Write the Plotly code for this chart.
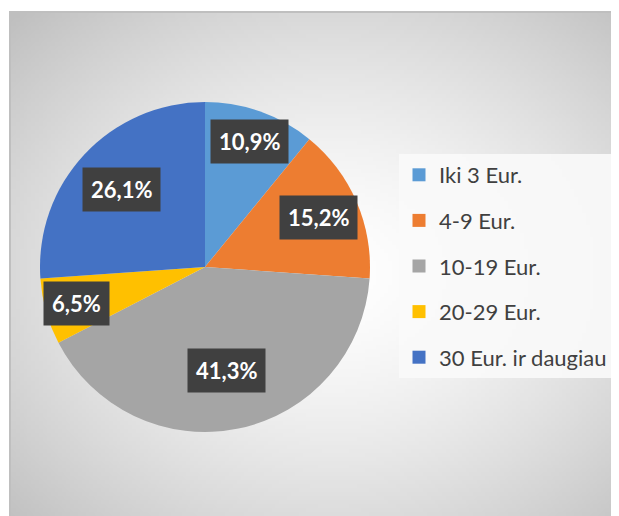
import base64
import struct
import zlib

import numpy as np
import plotly.graph_objects as go

labels = ["Iki 3 Eur.", "4-9 Eur.", "10-19 Eur.", "20-29 Eur.", "30 Eur. ir daugiau"]
values = [10.9, 15.2, 41.3, 6.5, 26.1]
colors = ["#5B9BD5", "#ED7D31", "#A5A5A5", "#FFC000", "#4472C4"]

W, H = 619, 516
# the page body has an 8px margin, so window pixels are shifted by that
OFF = 8


def fx(x):
    return (x - OFF) / W


def fy(y):
    return 1 - (y - OFF) / H


# radial grey background like the Excel chart area, made as a small png
def gradient_png(w, h):
    yy, xx = np.mgrid[0:h, 0:w]
    cx, cy = w * 0.52, h * 0.5
    d = np.sqrt(((xx - cx) / cx) ** 2 + ((yy - cy) / cy) ** 2) / np.sqrt(2)
    g = (255 - 64 * np.clip(d, 0, 1) ** 1.5).astype(np.uint8)
    raw = b"".join(b"\x00" + bytes(np.repeat(row, 3)) for row in g)

    def chunk(tag, data):
        c = struct.pack(">I", len(data)) + tag + data
        return c + struct.pack(">I", zlib.crc32(tag + data) & 0xFFFFFFFF)

    png = b"\x89PNG\r\n\x1a\n"
    png += chunk(b"IHDR", struct.pack(">IIBBBBB", w, h, 8, 2, 0, 0, 0))
    png += chunk(b"IDAT", zlib.compress(raw, 9))
    png += chunk(b"IEND", b"")
    return "data:image/png;base64," + base64.b64encode(png).decode()


# pie geometry in window pixels
cx, cy, r = 205, 267, 165

fig = go.Figure()
fig.add_trace(go.Pie(
    labels=labels, values=values, sort=False, direction="clockwise",
    rotation=0, marker=dict(colors=colors), textinfo="none",
    showlegend=False,
    domain=dict(x=[fx(cx - r), fx(cx + r)], y=[fy(cy + r), fy(cy - r)]),
    hovertemplate="%{label}: %{value:.1f}%<extra></extra>",
))

# legend entries as dummy square markers so the rows can be spaced out
for lab, col in zip(labels, colors):
    fig.add_trace(go.Scatter(
        x=[None], y=[None], mode="markers", name=lab, legendgroup=lab,
        marker=dict(symbol="square", size=13, color=col),
    ))

# data labels in dark boxes, placed at the middle angle of each slice
label_r = [0.81, 0.75, 0.64, 0.81, 0.69]
total = sum(values)
cum = 0
annotations = []
for v, rf in zip(values, label_r):
    mid = (cum + v / 2) / total * 2 * np.pi
    cum += v
    annotations.append(dict(
        x=fx(cx + rf * r * np.sin(mid)), y=fy(cy - rf * r * np.cos(mid)),
        xref="paper", yref="paper", xanchor="center", yanchor="middle",
        text="<b>" + f"{v / total * 100:.1f}".replace(".", ",") + "%</b>",
        showarrow=False, bgcolor="#404040", borderpad=8,
        font=dict(family="Lato", size=22, color="white"),
    ))

fig.update_layout(
    width=W, height=H,
    margin=dict(l=0, r=0, t=0, b=0),
    paper_bgcolor="white", plot_bgcolor="rgba(0,0,0,0)",
    xaxis=dict(visible=False), yaxis=dict(visible=False),
    images=[dict(
        source=gradient_png(160, 130), xref="paper", yref="paper",
        x=fx(10), y=fy(12), sizex=(630 - 10) / W, sizey=(530 - 12) / H,
        xanchor="left", yanchor="top", sizing="stretch", layer="below",
    )],
    shapes=[dict(
        type="rect", xref="paper", yref="paper",
        x0=fx(10), x1=fx(634), y0=fy(534), y1=fy(12),
        line=dict(color="#bfbfbf", width=2), layer="below",
    )],
    annotations=annotations,
    legend=dict(
        x=fx(399), y=fy(154), xanchor="left", yanchor="top",
        bgcolor="rgba(249,249,249,0.9)", tracegroupgap=14,
        font=dict(family="Lato", size=22, color="#404040"),
        itemclick=False, itemdoubleclick=False,
    ),
)

fig.write_html("out.html")
